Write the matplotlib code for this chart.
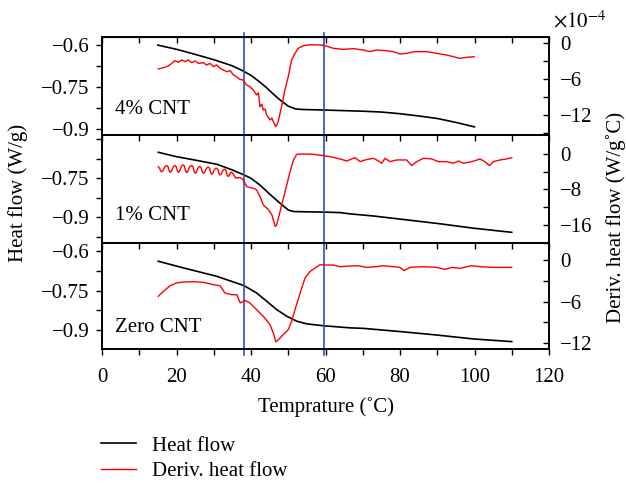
import matplotlib
matplotlib.use("Agg")
import matplotlib.pyplot as plt
from matplotlib.lines import Line2D

plt.rcParams['font.family'] = ['Liberation Serif', 'DejaVu Serif']
plt.rcParams['mathtext.fontset'] = 'stix'

# ---- data (heat flow in W/g, derivative in units of 1e-4 W/g°C) ----
temp_4_hf = [15, 20, 25, 30, 35, 38, 40, 42, 44, 46, 48, 50, 52, 54, 60, 65, 70, 75, 80, 85, 90, 95, 100]
hf_4 = [-0.600, -0.615, -0.633, -0.652, -0.674, -0.693, -0.708, -0.728, -0.750, -0.775, -0.798,
        -0.818, -0.828, -0.830, -0.832, -0.834, -0.836, -0.839, -0.845, -0.853, -0.862, -0.876, -0.892]
temp_4_d = [15.1, 16.5, 17.8, 18.7, 19.6, 20.5, 21.4, 22.3, 23.2, 24.1, 25.0, 25.9, 27.2, 28.1, 29.0,
            29.9, 30.8, 31.7, 32.6, 33.5, 34.4, 35.3, 36.1, 37.0, 37.9, 38.8, 39.7, 40.6, 41.5, 42.0,
            42.4, 42.9, 43.3, 43.8, 44.2, 44.7, 45.1, 45.6, 46.0, 46.7, 47.3, 48.2, 49.1, 50.0, 50.9,
            51.8, 52.7, 54.1, 55.9, 58.5, 59.9, 62.1, 64.8, 67.5, 70.2, 71.9, 73.7, 76.4, 78.2, 80.0,
            81.8, 84.0, 87.2, 89.8, 92.5, 94.3, 96.1, 97.9, 99.9]
deriv_4 = [-4.33, -4.11, -3.83, -3.39, -2.94, -3.22, -2.83, -3.11, -2.83, -3.28, -3.00, -3.39, -3.28,
           -3.67, -3.39, -3.94, -3.67, -4.22, -4.50, -4.78, -4.61, -5.33, -5.61, -6.06, -6.17, -7.00,
           -7.28, -7.83, -8.67, -8.30, -10.61, -10.2, -11.17, -11.0, -12.0, -12.4, -12.83, -12.5,
           -13.11, -13.94, -13.11, -10.61, -7.83, -5.61, -2.83, -1.72, -0.89, -0.44, -0.28, -0.33,
           -0.44, -0.89, -1.06, -0.94, -1.17, -1.44, -1.17, -1.28, -1.44, -1.83, -1.72, -1.44, -1.44,
           -1.72, -2.00, -2.28, -2.56, -2.39, -2.28]

temp_1_hf = [15.1, 20, 25, 30.8, 35, 38.1, 40, 42.4, 45.1, 47.8, 50, 51.4, 55, 59.4, 63.9, 66.6,
             72.8, 81.8, 90.7, 99.7, 110]
hf_1 = [-0.650, -0.667, -0.680, -0.696, -0.718, -0.737, -0.750, -0.776, -0.812, -0.846, -0.872,
        -0.878, -0.879, -0.880, -0.882, -0.887, -0.895, -0.910, -0.925, -0.942, -0.958]
temp_1_d = [15.1, 15.5, 15.75, 16.0, 16.3, 16.8, 17.1, 17.4, 17.7, 18.0, 18.3, 18.6, 19.1, 19.35,
            19.6, 19.9, 20.2, 20.5, 20.8, 21.3, 21.55, 21.8, 22.1, 22.4, 22.7, 23.0, 23.55, 23.85,
            24.1, 24.4, 24.7, 25.0, 25.3, 25.8, 26.05, 26.3, 26.6, 26.9, 27.2, 27.5, 28.0, 28.3,
            28.6, 28.9, 29.15, 29.4, 29.7, 30.2, 30.5, 30.8, 31.1, 31.4, 31.7, 32.0, 32.5, 32.75,
            33.0, 33.3, 33.6, 33.9, 34.2, 34.5, 34.8, 35.2, 35.8, 36.2, 36.6, 37.1, 37.6, 38.1,
            38.8, 39.7, 40.6, 41.5, 42.4, 43.3, 44.7, 45.6, 46.5, 46.9, 47.8, 48.7, 49.6, 50.5,
            51.4, 52.3, 54.1, 56.7, 59.4, 61.2, 63.9, 65.7, 67.9, 69.3, 70.6, 72.9, 74.2, 75.1,
            76.0, 77.3, 79.1, 81.8, 83.1, 84.5, 86.3, 88.5, 90.3, 92.5, 94.3, 95.7, 97.0, 99.3,
            101.5, 102.8, 104.0, 105.1, 106.9, 108.6, 110.0]
deriv_1 = [-2.85, -3.30, -3.85, -4.00, -3.85, -3.00, -2.70, -2.63, -2.80, -3.70, -4.13, -3.95,
           -3.00, -2.70, -2.63, -2.80, -3.70, -4.13, -3.95, -2.90, -2.55, -2.48, -2.70, -3.70,
           -4.20, -4.00, -2.85, -2.65, -2.63, -2.85, -3.90, -4.35, -4.15, -3.10, -2.90, -2.85,
           -3.05, -4.00, -4.35, -4.20, -3.30, -3.05, -3.00, -3.25, -4.20, -4.58, -4.40, -3.50,
           -3.27, -3.23, -3.45, -4.40, -4.73, -4.55, -3.70, -3.50, -3.45, -3.80, -4.80, -5.10,
           -4.80, -4.25, -4.13, -4.50, -5.35, -5.48, -5.35, -5.33, -5.60, -6.08,
           -7.36, -7.58, -7.73, -8.10, -9.61, -11.49, -12.61, -13.74, -16.37, -16.00, -12.99,
           -9.98, -6.98, -3.98, -1.35, -0.07, 0.00, -0.07, -0.38, -0.60, -1.13, -1.58, -0.83,
           -1.73, -1.35, -0.98, -1.58, -2.10, -0.98, -1.73, -1.35, -1.35, -2.63, -1.73, -0.98,
           -1.13, -1.73, -1.73, -2.10, -1.58, -2.10, -1.73, -1.13, -1.73, -2.63, -1.73, -1.35,
           -1.13, -0.83]

temp_0_hf = [15.1, 21.8, 30.8, 38.1, 41.5, 44.2, 46.9, 49.6, 52.3, 55.0, 59.4, 66.6, 70.2, 80.0,
             89.8, 99.7, 110]
hf_0 = [-0.639, -0.664, -0.696, -0.731, -0.759, -0.790, -0.822, -0.847, -0.866, -0.876, -0.883,
        -0.891, -0.893, -0.905, -0.918, -0.933, -0.943]
temp_0_d = [15.1, 16.5, 18.3, 20.0, 21.8, 24.5, 27.2, 29.9, 31.7, 33.0, 34.8, 36.2, 37.1, 38.4, 39.7,
            41.5, 43.3, 45.1, 46.0, 46.7, 47.4, 48.2, 49.1, 50.0, 50.9, 51.8, 53.2, 54.5, 55.9, 57.6,
            58.5, 59.9, 62.1, 63.9, 66.6, 68.8, 71.0, 73.7, 75.5, 78.2, 80.0, 81.1, 82.7, 86.3, 89.8,
            92.1, 93.9, 96.1, 99.2, 101.5, 105.1, 110.0]
deriv_0 = [-5.25, -4.53, -3.71, -3.32, -3.18, -3.13, -3.22, -3.56, -3.71, -4.77, -5.01, -5.01, -6.21,
           -5.83, -6.21, -7.18, -8.14, -9.35, -10.55, -11.85, -11.50, -11.03, -10.55, -10.07, -8.86,
           -7.18, -4.77, -2.60, -1.64, -1.01, -0.68, -0.72, -0.72, -0.96, -0.87, -0.82, -1.06, -0.96,
           -0.82, -0.96, -1.06, -1.54, -1.06, -0.96, -1.06, -1.35, -1.06, -1.20, -0.82, -0.96, -1.06,
           -1.06]

panel_names = ['4% CNT', '1% CNT', 'Zero CNT']
marker_temps = [38, 59.5]

panels = [
    dict(t_hf=temp_4_hf, hf=hf_4, t_d=temp_4_d, d=deriv_4,
         ylim=(-0.921, -0.571), yt=[-0.6, -0.75, -0.9], ym=[-0.675, -0.825],
         ylim2=(-15.33, 1.0), yt2=[0, -6, -12], ym2=[-3, -9, -15], ty=-0.83),
    dict(t_hf=temp_1_hf, hf=hf_1, t_d=temp_1_d, d=deriv_1,
         ylim=(-0.999, -0.5835), yt=[-0.75, -0.9], ym=[-0.6, -0.675, -0.825, -0.975],
         ylim2=(-20.1, 4.28), yt2=[0, -8, -16], ym2=[-4, -12, -20], ty=-0.895),
    dict(t_hf=temp_0_hf, hf=hf_0, t_d=temp_0_d, d=deriv_0,
         ylim=(-0.971, -0.570), yt=[-0.6, -0.75, -0.9], ym=[-0.675, -0.825],
         ylim2=(-12.86, 2.46), yt2=[0, -6, -12], ym2=[-3, -9], ty=-0.89),
]

fs = 15
blue = '#2f52b8'

fig = plt.figure(figsize=(6.26, 4.83), dpi=100)
fig.patch.set_facecolor('white')
gs = fig.add_gridspec(3, 1, height_ratios=[98, 108, 106], hspace=0,
                      left=102 / 626, right=549 / 626, top=1 - 37 / 483, bottom=1 - 349 / 483)

axes = []
for i, p in enumerate(panels):
    ax = fig.add_subplot(gs[i])
    ax.patch.set_visible(False)
    ax2 = ax.twinx()

    ax.plot(p['t_hf'], p['hf'], color='black', lw=1.2)
    ax2.plot(p['t_d'], p['d'], color='red', lw=1.0)
    # blue guide lines run a little past the outer frame at top and bottom
    lo = -0.06 if i == 2 else 0
    hi = 1.04 if i == 0 else 1
    for xm in marker_temps:
        ax.axvline(xm, ymin=lo, ymax=hi, color=blue, lw=1.2, clip_on=False)

    ax.set_xlim(0, 120)
    ax.set_ylim(*p['ylim'])
    ax.set_yticks(p['yt'])
    ax.set_yticks(p['ym'], minor=True)
    ax.set_yticklabels([('%g' % v).replace('-', '\u2212') for v in p['yt']])
    ax.set_xticks(range(0, 121, 20))
    ax.set_xticks(range(10, 120, 20), minor=True)
    ax.tick_params(axis='y', which='both', direction='out', length=4, width=1, labelsize=fs, pad=5)
    ax.tick_params(axis='x', which='both', direction='out', length=4, width=1, labelsize=fs, pad=10)

    ax2.set_ylim(*p['ylim2'])
    ax2.set_yticks(p['yt2'])
    ax2.set_yticks(p['ym2'], minor=True)
    ax2.set_yticklabels([str(v).replace('-', '\u2212') for v in p['yt2']])
    ax2.tick_params(axis='y', which='both', direction='in', length=4, width=1, labelsize=fs, pad=8)

    for a in (ax, ax2):
        for s in a.spines.values():
            s.set_linewidth(1.2)

    ax.text(3.5, p['ty'], panel_names[i], fontsize=fs, va='center', ha='left')

    if i < 2:
        ax.tick_params(axis='x', labelbottom=False)
    axes.append(ax)

# ticks pointing in from the top frame of the first panel
sec = axes[0].secondary_xaxis('top')
sec.set_xticks(range(0, 121, 20))
sec.set_xticks(range(10, 120, 20), minor=True)
sec.tick_params(which='both', direction='in', length=4, width=1, labeltop=False)

axes[2].set_xlabel('Temprature (\u02daC)', fontsize=fs, labelpad=7)
fig.text(18 / 626, 1 - 193 / 483, 'Heat flow (W/g)', rotation=90, fontsize=fs,
         ha='center', va='center')
fig.text(616 / 626, 1 - 217 / 483, 'Deriv. heat flow (W/g\u02daC)', rotation=90, fontsize=fs,
         ha='center', va='center')
fig.text(553 / 626, 1 - 22 / 483, r'$\times10^{-4}$', fontsize=fs, ha='left', va='center')

handles = [Line2D([], [], color='black', lw=1.2), Line2D([], [], color='red', lw=1.0)]
fig.legend(handles, ['Heat flow', 'Deriv. heat flow'], loc='upper left',
           bbox_to_anchor=(101 / 626, 1 - 436 / 483), frameon=False, fontsize=fs,
           handlelength=1.7, handletextpad=0.75, labelspacing=0.3, borderpad=0, borderaxespad=0)

fig.savefig('out.png', dpi=100)
